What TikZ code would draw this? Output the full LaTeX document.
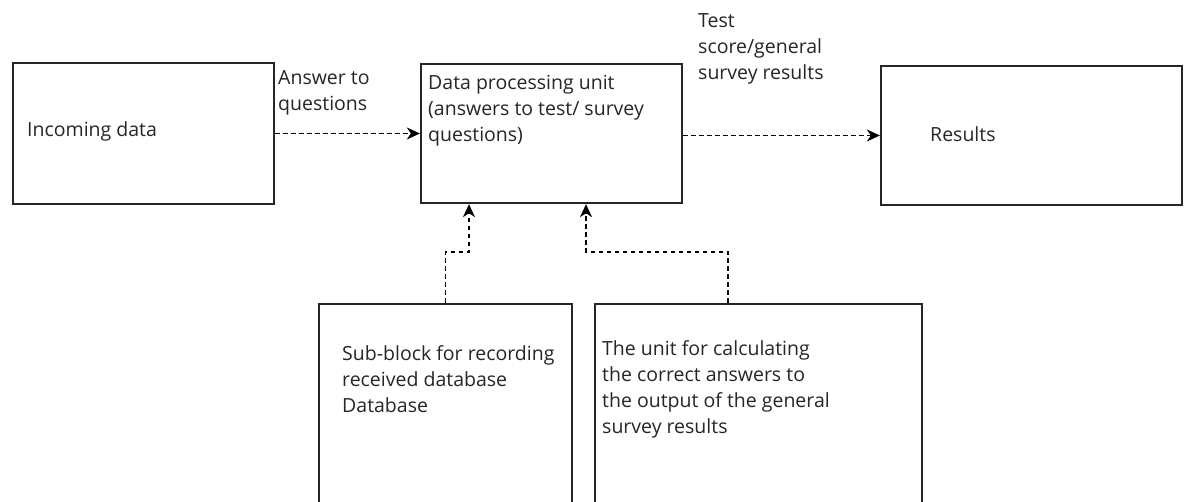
\documentclass[tikz,border=0pt]{standalone}
\usepackage{fontspec}
\setmainfont{Open Sans}
\usetikzlibrary{arrows.meta}
\begin{document}
\begin{tikzpicture}[x=1pt,y=-1pt,
  box/.style={draw=black!85, line width=2.3pt, rectangle, inner sep=0pt},
  conn/.style={draw=black, line width=1.7pt, dash pattern=on 4.5pt off 3.5pt, -{Stealth[length=13pt,width=12pt,inset=4pt]}},
  txt/.style={inner sep=0pt, anchor=west, align=left, text=black!85, font=\fontsize{19.5}{26}\selectfont}]
\useasboundingbox (0,0) rectangle (1185,502);
\clip (0,0) rectangle (1185,502);
\fill[white] (0,0) rectangle (1185,502);
% boxes
\node[box, minimum width=261pt, minimum height=141pt] (box1) at (143.5,133.5) {};
\node[box, minimum width=261pt, minimum height=139pt] (box2) at (551.5,133.5) {};
\node[box, minimum width=301pt, minimum height=139pt] (box3) at (1031.5,135.5) {};
\node[box, minimum width=253pt, minimum height=256pt] (box4) at (445.5,432) {};
\node[box, minimum width=327pt, minimum height=256pt] (box5) at (758.5,432) {};
% texts
\node[txt] (t1) at (27,131) {Incoming data};
\node[txt] (t2) at (428,111) {Data processing unit\\(answers to test/ survey\\questions)};
\node[txt] (t3) at (930,134) {Results};
\node[txt] (t4) at (342,379) {Sub-block for recording\\received database\\Database};
\node[txt] (t5) at (602,389) {The unit for calculating\\the correct answers to\\the output of the general\\survey results};
\node[txt] (l1) at (278,93) {Answer to\\questions};
\node[txt] (l2) at (698,49) {Test\\score/general\\survey results};
% connectors
\draw[conn] (box1.east) -- (box2.west);
\draw[conn] (box2.east |- box3.west) -- (box3.west);
\draw[conn] (box4.north) -- ++(0,-51) -| ([xshift=-82.5pt]box2.south);
\draw[conn] ([xshift=-30.5pt]box5.north) -- ++(0,-51) -| ([xshift=34.5pt]box2.south);
\end{tikzpicture}
\end{document}
